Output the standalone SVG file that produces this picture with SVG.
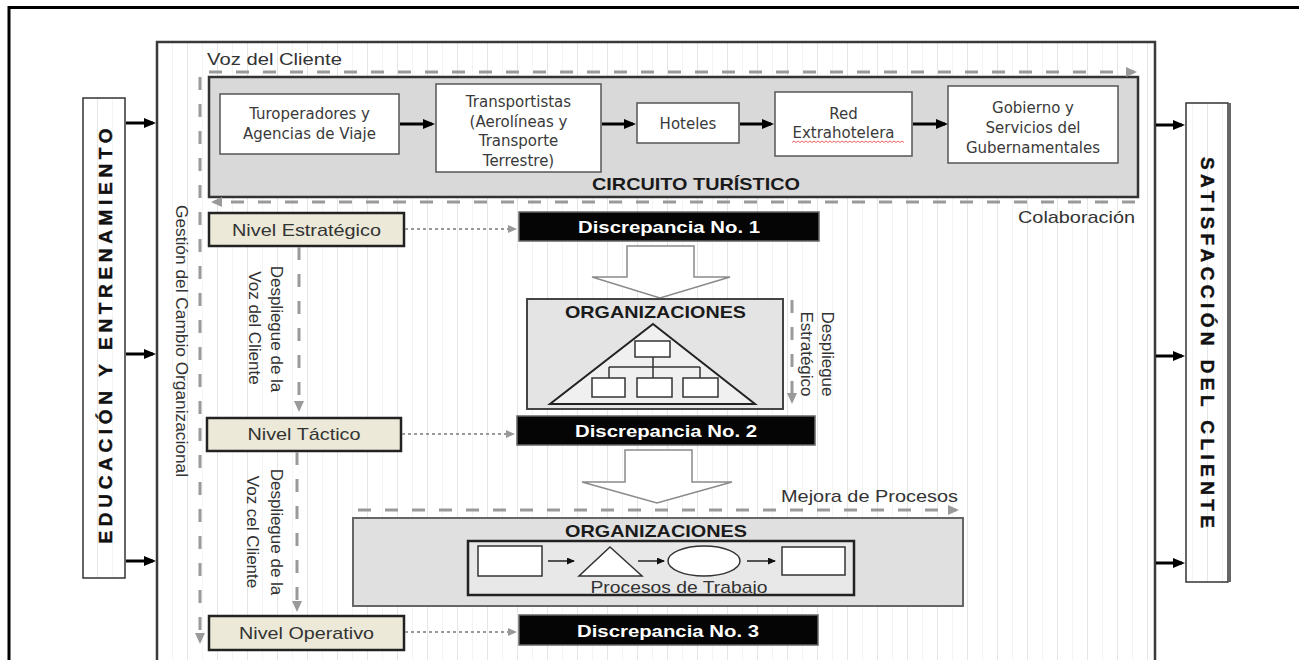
<svg xmlns="http://www.w3.org/2000/svg" width="1299" height="660" viewBox="0 0 1299 660">
<defs>
<style>
.lbl{font-family:"Liberation Sans",Arial,sans-serif;font-size:17px;fill:#333}
.b{font-weight:bold}
.big{font-family:"Liberation Sans",Arial,sans-serif;font-size:19px;font-weight:bold;fill:#111;text-anchor:middle;stroke:#111;stroke-width:0.4}
.cir{font-family:"DejaVu Sans",Verdana,sans-serif;font-size:15px;fill:#3a3a3a;text-anchor:middle}
.mid{text-anchor:middle}
.end{text-anchor:end}
.dash{stroke:#9a9a9a;stroke-width:3;stroke-dasharray:13 14;fill:none}
.dot{stroke:#999;stroke-width:2;stroke-dasharray:3 3;fill:none}
.blk{stroke:#000;stroke-width:3;fill:none}
.thin{stroke:#222;stroke-width:1.5;fill:none}
.cbox{fill:#fff;stroke:#555;stroke-width:1.5}
.nivel{fill:#ece9d8;stroke:#222;stroke-width:2.5}
.disc{fill:#050505;stroke:#666;stroke-width:1.5}
.barrow{fill:#fff;stroke:#8a8a8a;stroke-width:1.5}
.org{stroke:#333;stroke-width:1.5}
</style>
<pattern id="grid" width="30" height="20" patternUnits="userSpaceOnUse" x="157" y="0">
<rect width="30" height="20" fill="#fff"/>
<path d="M0.5 0V20" stroke="#e6e6e6" stroke-width="1"/>
<path d="M15.5 0V20" stroke="#f4f4f4" stroke-width="1"/>
</pattern>
<marker id="ba" markerUnits="userSpaceOnUse" markerWidth="12" markerHeight="10" refX="9" refY="5" orient="auto"><path d="M0 0L12 5L0 10z" fill="#000"/></marker>
<marker id="sa" markerUnits="userSpaceOnUse" markerWidth="8" markerHeight="7" refX="7" refY="3.5" orient="auto"><path d="M0 0L8 3.5L0 7z" fill="#111"/></marker>
<marker id="ga" markerUnits="userSpaceOnUse" markerWidth="11" markerHeight="10" refX="8" refY="5" orient="auto"><path d="M0 0L11 5L0 10z" fill="#9a9a9a"/></marker>
<marker id="da" markerUnits="userSpaceOnUse" markerWidth="9" markerHeight="8" refX="7" refY="4" orient="auto"><path d="M0 0L9 4L0 8z" fill="#999"/></marker>
</defs>

<rect width="1299" height="660" fill="#fff"/>
<path d="M9 660V7.5H1299" fill="none" stroke="#000" stroke-width="3"/>

<g id="marco">
<rect x="157" y="42" width="998" height="640" fill="url(#grid)" stroke="#3a3a3a" stroke-width="2.5"/>
</g>

<g id="educacion">
<rect x="83" y="98" width="42" height="480" fill="url(#grid)" stroke="#333" stroke-width="1.5"/>
<text class="big" transform="translate(104.5 336) rotate(-90)" y="7" textLength="415" lengthAdjust="spacing">EDUCACIÓN Y ENTRENAMIENTO</text>
</g>

<g id="satisfaccion">
<rect x="1186" y="103" width="42" height="479" fill="url(#grid)" stroke="#333" stroke-width="1.5"/>
<path d="M1229.5 103V582" stroke="#666" stroke-width="3"/>
<text class="big" transform="translate(1207.5 342.5) rotate(90)" y="7" textLength="371" lengthAdjust="spacing">SATISFACCIÓN DEL CLIENTE</text>
</g>

<g id="circuito">
<rect x="209" y="77" width="929" height="120" fill="#d9d9d9" stroke="#333" stroke-width="2.5"/>
<text class="lbl b mid" x="696" y="190" textLength="208" lengthAdjust="spacingAndGlyphs" style="fill:#1a1a1a">CIRCUITO TURÍSTICO</text>
</g>

<g id="turoperadores">
<rect class="cbox" x="220" y="94" width="179" height="60"/>
<text class="cir" x="309.5" y="119">Turoperadores y</text>
<text class="cir" x="309.5" y="138.5">Agencias de Viaje</text>
</g>

<g id="transportistas">
<rect class="cbox" x="436" y="84" width="165" height="88"/>
<text class="cir" x="518.5" y="107">Transportistas</text>
<text class="cir" x="518.5" y="126.5">(Aerolíneas y</text>
<text class="cir" x="518.5" y="146">Transporte</text>
<text class="cir" x="518.5" y="165.5">Terrestre)</text>
</g>

<g id="hoteles">
<rect class="cbox" x="637" y="103" width="102" height="40"/>
<text class="cir" x="688" y="128.5">Hoteles</text>
</g>

<g id="red">
<rect class="cbox" x="775" y="92" width="137" height="64"/>
<text class="cir" x="843.5" y="119">Red</text>
<text class="cir" x="843.5" y="138">Extrahotelera</text>
<path d="M792 142.5l2 -1.5l2 1.5l2 -1.5l2 1.5l2 -1.5l2 1.5l2 -1.5l2 1.5l2 -1.5l2 1.5l2 -1.5l2 1.5l2 -1.5l2 1.5l2 -1.5l2 1.5l2 -1.5l2 1.5l2 -1.5l2 1.5l2 -1.5l2 1.5l2 -1.5l2 1.5l2 -1.5l2 1.5l2 -1.5l2 1.5l2 -1.5l2 1.5l2 -1.5l2 1.5l2 -1.5l2 1.5l2 -1.5l2 1.5l2 -1.5l2 1.5l2 -1.5l2 1.5l2 -1.5l2 1.5l2 -1.5l2 1.5l2 -1.5l2 1.5l2 -1.5l2 1.5l2 -1.5l2 1.5l2 -1.5l2 1.5l2 -1.5l2 1.5l2 -1.5l2 1.5" fill="none" stroke="#e04040" stroke-width="0.8"/>
</g>

<g id="gobierno">
<rect class="cbox" x="948" y="86" width="170" height="77"/>
<text class="cir" x="1033" y="113">Gobierno y</text>
<text class="cir" x="1033" y="133">Servicios del</text>
<text class="cir" x="1033" y="152.5">Gubernamentales</text>
</g>

<g id="nivel-estrategico">
<rect class="nivel" x="209" y="213" width="195" height="33"/>
<text class="lbl mid" x="306.5" y="235.5" textLength="149" lengthAdjust="spacingAndGlyphs">Nivel Estratégico</text>
</g>
<g id="nivel-tactico">
<rect class="nivel" x="207" y="418" width="194" height="33"/>
<text class="lbl mid" x="304" y="440" textLength="113" lengthAdjust="spacingAndGlyphs">Nivel Táctico</text>
</g>
<g id="nivel-operativo">
<rect class="nivel" x="209" y="616" width="195" height="34"/>
<text class="lbl mid" x="306.5" y="639" textLength="135" lengthAdjust="spacingAndGlyphs">Nivel Operativo</text>
</g>

<g id="discrepancia-1">
<rect class="disc" x="519" y="212" width="300" height="29"/>
<text class="lbl b mid" x="669" y="233" textLength="182" lengthAdjust="spacingAndGlyphs" style="fill:#fff">Discrepancia No. 1</text>
</g>
<g id="discrepancia-2">
<rect class="disc" x="517" y="416" width="298" height="29"/>
<text class="lbl b mid" x="666" y="437" textLength="182" lengthAdjust="spacingAndGlyphs" style="fill:#fff">Discrepancia No. 2</text>
</g>
<g id="discrepancia-3">
<rect class="disc" x="519" y="615" width="299" height="30"/>
<text class="lbl b mid" x="668" y="636.5" textLength="182" lengthAdjust="spacingAndGlyphs" style="fill:#fff">Discrepancia No. 3</text>
</g>

<g id="flecha-bloque-1">
<polygon class="barrow" points="627,246 694,246 694,277 730,277 660,298 592,277 627,277"/>
</g>
<g id="flecha-bloque-2">
<polygon class="barrow" points="625,450 692,450 692,482 732,482 657,503 582,482 625,482"/>
</g>

<g id="organizaciones-1">
<rect x="527" y="299" width="256" height="110" fill="#e4e4e4" stroke="#444" stroke-width="2"/>
<text class="lbl b mid" x="655.5" y="318" textLength="181" lengthAdjust="spacingAndGlyphs" style="fill:#1a1a1a">ORGANIZACIONES</text>
<polygon points="653,324 755,404 550,404" fill="#f0f0f0" stroke="#222" stroke-width="2"/>
<rect class="org" x="635" y="341" width="35" height="16" fill="#fff"/>
<path class="org" d="M653 357V378M609 367H700M609 367V378M700 367V378" fill="none"/>
<rect class="org" x="592" y="378" width="33" height="19" fill="#fff"/>
<rect class="org" x="637" y="378" width="35" height="19" fill="#fff"/>
<rect class="org" x="683" y="378" width="35" height="19" fill="#fff"/>
</g>

<g id="organizaciones-2">
<rect x="353" y="518" width="610" height="88" fill="#e0e0e0" stroke="#666" stroke-width="2"/>
<text class="lbl b mid" x="656" y="537" textLength="182" lengthAdjust="spacingAndGlyphs" style="fill:#1a1a1a">ORGANIZACIONES</text>
<rect x="468" y="541" width="386" height="54" fill="#e8e8e8"/>
<rect x="478" y="546" width="64" height="30" fill="#fff" stroke="#333" stroke-width="1.5"/>
<polygon points="610,547 642,576 579,576" fill="#fff" stroke="#333" stroke-width="1.5"/>
<ellipse cx="704" cy="561" rx="36" ry="15" fill="#fff" stroke="#333" stroke-width="1.5"/>
<rect x="782" y="547" width="63" height="28" fill="#fff" stroke="#333" stroke-width="1.5"/>
<path class="thin" d="M548 561H574" marker-end="url(#sa)"/>
<path class="thin" d="M638 561H664" marker-end="url(#sa)"/>
<path class="thin" d="M747 561H775" marker-end="url(#sa)"/>
<text class="lbl mid" x="679" y="592.5" textLength="177" lengthAdjust="spacingAndGlyphs">Procesos de Trabajo</text>
<rect x="468" y="541" width="386" height="54" fill="none" stroke="#222" stroke-width="2.5"/>
</g>

<g id="etiquetas">
<text class="lbl" x="207" y="65" textLength="135" lengthAdjust="spacingAndGlyphs">Voz del Cliente</text>
<text class="lbl end" x="1135" y="223" textLength="117" lengthAdjust="spacingAndGlyphs">Colaboración</text>
<text class="lbl end" x="958" y="502" textLength="177" lengthAdjust="spacingAndGlyphs">Mejora de Procesos</text>
<text class="lbl mid" transform="translate(182 341) rotate(90)" y="6" textLength="272" lengthAdjust="spacingAndGlyphs">Gestión del Cambio Organizacional</text>
<text class="lbl mid" transform="translate(277 329) rotate(90)" y="6">Despliegue de la</text>
<text class="lbl mid" transform="translate(255 328) rotate(90)" y="6">Voz del Cliente</text>
<text class="lbl mid" transform="translate(277 532) rotate(90)" y="6">Despliegue de la</text>
<text class="lbl mid" transform="translate(253 532) rotate(90)" y="6">Voz cel Cliente</text>
<text class="lbl mid" transform="translate(828 354) rotate(90)" y="6">Despliegue</text>
<text class="lbl mid" transform="translate(807 354) rotate(90)" y="6">Estratégico</text>
</g>

<g id="conectores">
<path class="blk" d="M126 123H153" marker-end="url(#ba)"/>
<path class="blk" d="M126 354H153" marker-end="url(#ba)"/>
<path class="blk" d="M126 561H153" marker-end="url(#ba)"/>
<path class="blk" d="M1156 125H1182" marker-end="url(#ba)"/>
<path class="blk" d="M1156 356H1182" marker-end="url(#ba)"/>
<path class="blk" d="M1156 563H1182" marker-end="url(#ba)"/>
<path class="blk" d="M400 124H432" marker-end="url(#ba)"/>
<path class="blk" d="M602 124H633" marker-end="url(#ba)"/>
<path class="blk" d="M740 124H771" marker-end="url(#ba)"/>
<path class="blk" d="M913 124H945" marker-end="url(#ba)"/>
<path class="dash" d="M209 72H1134" marker-end="url(#ga)"/>
<path class="dash" d="M1135 202H214" marker-end="url(#ga)"/>
<path class="dash" d="M200 77V641" marker-end="url(#ga)"/>
<path class="dash" d="M299 247V409" marker-end="url(#ga)"/>
<path class="dash" d="M297 452V609" marker-end="url(#ga)"/>
<path class="dash" d="M792 300V401" marker-end="url(#ga)"/>
<path class="dash" d="M358 510H956" marker-end="url(#ga)"/>
<path class="dot" d="M405 229H515" marker-end="url(#da)"/>
<path class="dot" d="M402 434H513" marker-end="url(#da)"/>
<path class="dot" d="M405 632H515" marker-end="url(#da)"/>
</g>
</svg>
